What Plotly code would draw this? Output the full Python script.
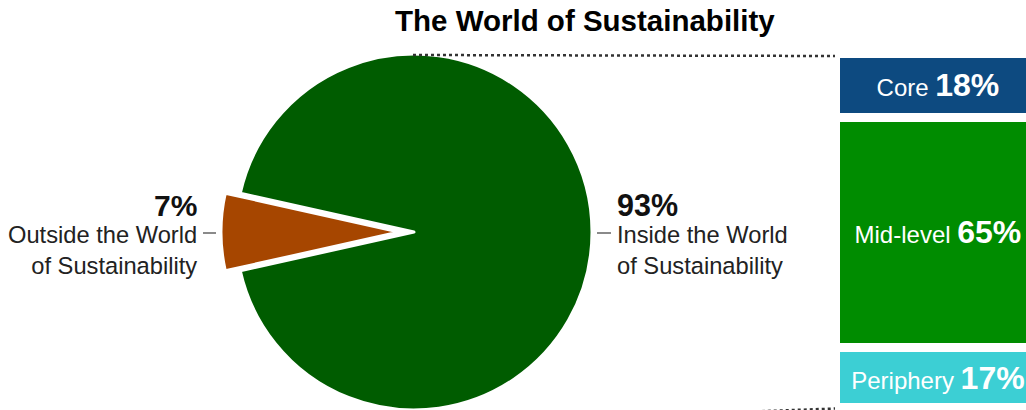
import plotly.graph_objects as go

W, H = 1026, 410

title_text = "The World of Sustainability"

# Pie data
pie_labels = ["Outside the World of Sustainability", "Inside the World of Sustainability"]
pie_values = [7, 93]
pie_label_lines = ["Outside the World<br>of Sustainability", "Inside the World<br>of Sustainability"]

# Breakdown of "inside" (stacked bar, bottom to top)
seg_names = ["Periphery", "Mid-level", "Core"]
seg_values = [17, 65, 18]
seg_colors = ["#3ccfd4", "#008c00", "#0d4a80"]

GREEN = "#005c00"
BROWN = "#a64600"
FONT = "Liberation Sans, Arial, sans-serif"


def px(x):
    return x / W


def py(y):
    return 1 - y / H


fig = go.Figure()

R = 178
cy = 232
# main pie (inside slice), outside slice left transparent (notch)
cx_main = 414
fig.add_trace(go.Pie(
    labels=pie_labels, values=pie_values, sort=False, direction="clockwise",
    rotation=270 - pie_values[0] / 100 * 360 / 2,
    marker=dict(colors=["rgba(0,0,0,0)", GREEN],
                line=dict(color=["rgba(0,0,0,0)", "white"], width=[0, 3])),
    textinfo="none", hoverinfo="label+percent", showlegend=False,
    domain=dict(x=[px(cx_main - R), px(cx_main + R)], y=[py(cy + R), py(cy - R)]),
))
# exploded outside slice
cx_out = 399
fig.add_trace(go.Pie(
    labels=pie_labels, values=pie_values, sort=False, direction="clockwise",
    rotation=270 - pie_values[0] / 100 * 360 / 2,
    marker=dict(colors=[BROWN, "rgba(0,0,0,0)"],
                line=dict(color=["white", "rgba(0,0,0,0)"], width=[3, 0])),
    textinfo="none", hoverinfo="label+percent", showlegend=False,
    domain=dict(x=[px(cx_out - R), px(cx_out + R)], y=[py(cy + R), py(cy - R)]),
))

# stacked bar breakdown
for name, val, col in zip(seg_names, seg_values, seg_colors):
    fig.add_trace(go.Bar(
        x=[0], y=[val], width=[1], name=name,
        marker=dict(color=col, line=dict(color="white", width=9)),
        text=[f"{name} <span style='font-size:32px'><b>{val}%</b></span>"],
        textposition="inside", insidetextanchor="middle", textangle=0,
        textfont=dict(color="white", size=24, family=FONT),
        showlegend=False, hoverinfo="name+y",
        xaxis="x", yaxis="y",
    ))

fig.update_layout(
    width=W, height=H,
    margin=dict(l=0, r=0, t=0, b=0),
    paper_bgcolor="white", plot_bgcolor="rgba(0,0,0,0)",
    barmode="stack",
    font=dict(family=FONT, color="#111111"),
    xaxis=dict(domain=[px(835.5), 1], range=[-0.5, 0.43], visible=False, fixedrange=True),
    yaxis=dict(domain=[0, 1], range=[-0.62, 115.0], visible=False, fixedrange=True),
    uniformtext=dict(mode=False),
)

# title
annotations = [dict(
    text=f"<b>{title_text}</b>", x=px(585), y=py(20), xref="paper", yref="paper",
    xanchor="center", yanchor="middle", showarrow=False,
    font=dict(size=29.5, color="#000000", family=FONT),
)]
# pie labels
annotations += [
    dict(text=f"<b>{pie_values[0]}%</b>", x=px(199), y=py(205), xref="paper", yref="paper",
         xanchor="right", yanchor="middle", showarrow=False, font=dict(size=30, color="#111")),
    dict(text=pie_label_lines[0], x=px(199), y=py(250), xref="paper", yref="paper",
         xanchor="right", yanchor="middle", align="right", showarrow=False,
         font=dict(size=23.7, color="#222")),
    dict(text=f"<b>{pie_values[1]}%</b>", x=px(615), y=py(205), xref="paper", yref="paper",
         xanchor="left", yanchor="middle", showarrow=False, font=dict(size=30.5, color="#111")),
    dict(text=pie_label_lines[1], x=px(615), y=py(250), xref="paper", yref="paper",
         xanchor="left", yanchor="middle", align="left", showarrow=False,
         font=dict(size=23.7, color="#222")),
]
fig.update_layout(annotations=annotations)

shapes = [
    dict(type="line", xref="paper", yref="paper", x0=px(203), x1=px(216), y0=py(233), y1=py(233),
         line=dict(color="#8a8a8a", width=2)),
    dict(type="line", xref="paper", yref="paper", x0=px(597), x1=px(611), y0=py(233), y1=py(233),
         line=dict(color="#8a8a8a", width=2)),
    dict(type="line", xref="paper", yref="paper", x0=px(413), x1=px(835), y0=py(55), y1=py(56),
         line=dict(color="#333333", width=2.5, dash="dot")),
    dict(type="line", xref="paper", yref="paper", x0=px(414), x1=px(835), y0=py(424), y1=py(408.5),
         line=dict(color="#333333", width=2.5, dash="dot")),
]
fig.update_layout(shapes=shapes)

fig.write_html("out.html")
